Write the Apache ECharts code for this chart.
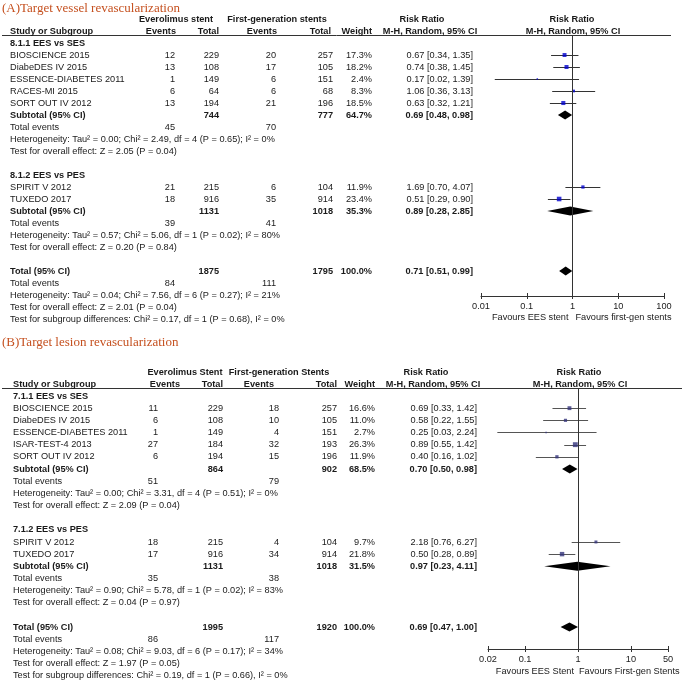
<!DOCTYPE html>
<html><head><meta charset="utf-8">
<script src="https://cdn.jsdelivr.net/npm/echarts@6/dist/echarts.min.js"></script>
<style>html,body{margin:0;padding:0;background:#fff}#c{width:685px;height:686px}</style>
</head><body><div id="c"></div>
<script>
// ===== Panel A data =====
const headA = ['(A)Target vessel revascularization','Everolimus stent','First-generation stents'];
const favA = ['Favours EES stent','Favours first-gen stents'];
const extentA = [0.01, 100];
const studyA = ['BIOSCIENCE 2015','DiabeDES IV 2015','ESSENCE-DIABETES 2011','RACES-MI 2015','SORT OUT IV 2012','SPIRIT V 2012','TUXEDO 2017'];
const groupA = [0,0,0,0,0,1,1];
const eesEvA = [12,13,1,6,13,21,18];
const eesTotA = [229,108,149,64,194,215,916];
const fgEvA = [20,17,6,6,21,6,35];
const fgTotA = [257,105,151,68,196,104,914];
const weightA = [17.3,18.2,2.4,8.3,18.5,11.9,23.4];
const rrA = [0.67,0.74,0.17,1.06,0.63,1.69,0.51];
const loA = [0.34,0.38,0.02,0.36,0.32,0.70,0.29];
const hiA = [1.35,1.45,1.39,3.13,1.21,4.07,0.90];
const subNameA = ['8.1.1 EES vs SES','8.1.2 EES vs PES'];
const subEesTotA = [744,1131];
const subFgTotA = [777,1018];
const subWeightA = [64.7,35.3];
const subRrA = [0.69,0.89];
const subLoA = [0.48,0.28];
const subHiA = [0.98,2.85];
const subEesEvA = [45,39];
const subFgEvA = [70,41];
const subHetA = ['Heterogeneity: Tau² = 0.00; Chi² = 2.49, df = 4 (P = 0.65); I² = 0%','Heterogeneity: Tau² = 0.57; Chi² = 5.06, df = 1 (P = 0.02); I² = 80%'];
const subTestA = ['Test for overall effect: Z = 2.05 (P = 0.04)','Test for overall effect: Z = 0.20 (P = 0.84)'];
const allTotA = [1875,1795];
const allEvA = [84,111];
const allWeightA = 100.0;
const allRrA = [0.71,0.51,0.99];
const allTextA = ['Heterogeneity: Tau² = 0.04; Chi² = 7.56, df = 6 (P = 0.27); I² = 21%','Test for overall effect: Z = 2.01 (P = 0.04)','Test for subgroup differences: Chi² = 0.17, df = 1 (P = 0.68), I² = 0%'];

// ===== Panel B data =====
const headB = ['(B)Target lesion revascularization','Everolimus Stent','First-generation Stents'];
const favB = ['Favours EES Stent','Favours First-gen Stents'];
const extentB = [0.02, 50];
const studyB = ['BIOSCIENCE 2015','DiabeDES IV 2015','ESSENCE-DIABETES 2011','ISAR-TEST-4 2013','SORT OUT IV 2012','SPIRIT V 2012','TUXEDO 2017'];
const groupB = [0,0,0,0,0,1,1];
const eesEvB = [11,6,1,27,6,18,17];
const eesTotB = [229,108,149,184,194,215,916];
const fgEvB = [18,10,4,32,15,4,34];
const fgTotB = [257,105,151,193,196,104,914];
const weightB = [16.6,11.0,2.7,26.3,11.9,9.7,21.8];
const rrB = [0.69,0.58,0.25,0.89,0.40,2.18,0.50];
const loB = [0.33,0.22,0.03,0.55,0.16,0.76,0.28];
const hiB = [1.42,1.55,2.24,1.42,1.02,6.27,0.89];
const subNameB = ['7.1.1 EES vs SES','7.1.2 EES vs PES'];
const subEesTotB = [864,1131];
const subFgTotB = [902,1018];
const subWeightB = [68.5,31.5];
const subRrB = [0.70,0.97];
const subLoB = [0.50,0.23];
const subHiB = [0.98,4.11];
const subEesEvB = [51,35];
const subFgEvB = [79,38];
const subHetB = ['Heterogeneity: Tau² = 0.00; Chi² = 3.31, df = 4 (P = 0.51); I² = 0%','Heterogeneity: Tau² = 0.90; Chi² = 5.78, df = 1 (P = 0.02); I² = 83%'];
const subTestB = ['Test for overall effect: Z = 2.09 (P = 0.04)','Test for overall effect: Z = 0.04 (P = 0.97)'];
const allTotB = [1995,1920];
const allEvB = [86,117];
const allWeightB = 100.0;
const allRrB = [0.69,0.47,1.00];
const allTextB = ['Heterogeneity: Tau² = 0.08; Chi² = 9.03, df = 6 (P = 0.17); I² = 34%','Test for overall effect: Z = 1.97 (P = 0.05)','Test for subgroup differences: Chi² = 0.19, df = 1 (P = 0.66), I² = 0%'];

// ===== layout (positions / styles only) =====
const FONT = '"Liberation Sans", Arial, sans-serif';
const FS = 9.2;
const TXT = '#1a1a1a';
const layoutA = {
  titleY: 9, head1Y: 19, head2Y: 31, lineY: 35.5, lineX1: 2, lineX2: 671,
  labelX: 10, evX: 175, totX: 219, ev2X: 276, tot2X: 333, wX: 372, ciX: 473,
  hEvX: 176, hTotX: 219, hEv2X: 277, hTot2X: 331, hWX: 372,
  hGrp1X: 176, hGrp2X: 277, hRR1X: 422, hRR2X: 572, hMH1X: 430, hMH2X: 573,
  grid: {left: 481, width: 183, top: 35, height: 261},
  slotMin: -0.667, slotMax: 21.083, favY: 317,
  sq: '#0000cc', ci: '#333333', favGapL: 4, favGapR: 3
};
const layoutB = {
  titleY: 343, head1Y: 372, head2Y: 384, lineY: 388.5, lineX1: 2, lineX2: 682,
  labelX: 13, evX: 158, totX: 223, ev2X: 279, tot2X: 337, wX: 375, ciX: 477,
  hEvX: 180, hTotX: 223, hEv2X: 274, hTot2X: 337, hWX: 375,
  hGrp1X: 185, hGrp2X: 279, hRR1X: 426, hRR2X: 579, hMH1X: 433, hMH2X: 580,
  grid: {left: 488, width: 180, top: 388, height: 261},
  slotMin: -0.658, slotMax: 20.80, favY: 671,
  sq: '#33337a', ci: '#555555', favGapL: 4, favGapR: 1
};

const panels = [
  {head: headA, fav: favA, ext: extentA, study: studyA, group: groupA, eesEv: eesEvA, eesTot: eesTotA, fgEv: fgEvA, fgTot: fgTotA,
   weight: weightA, rr: rrA, lo: loA, hi: hiA, subName: subNameA, subEesTot: subEesTotA, subFgTot: subFgTotA, subWeight: subWeightA,
   subRr: subRrA, subLo: subLoA, subHi: subHiA, subEesEv: subEesEvA, subFgEv: subFgEvA, subHet: subHetA, subTest: subTestA,
   allTot: allTotA, allEv: allEvA, allWeight: allWeightA, allRr: allRrA, allText: allTextA, L: layoutA},
  {head: headB, fav: favB, ext: extentB, study: studyB, group: groupB, eesEv: eesEvB, eesTot: eesTotB, fgEv: fgEvB, fgTot: fgTotB,
   weight: weightB, rr: rrB, lo: loB, hi: hiB, subName: subNameB, subEesTot: subEesTotB, subFgTot: subFgTotB, subWeight: subWeightB,
   subRr: subRrB, subLo: subLoB, subHi: subHiB, subEesEv: subEesEvB, subFgEv: subFgEvB, subHet: subHetB, subTest: subTestB,
   allTot: allTotB, allEv: allEvB, allWeight: allWeightB, allRr: allRrB, allText: allTextB, L: layoutB}
];

const fmtCI = (r, l, h) => r.toFixed(2) + ' [' + l.toFixed(2) + ', ' + h.toFixed(2) + ']';
const fmtW = w => w.toFixed(1) + '%';

// build row structure (slot = table row number)
panels.forEach(d => {
  const L = d.L;
  d.rows = []; d.slots = []; d.subSlots = [];
  let s = 0;
  for (let g = 0; g < d.subName.length; g++) {
    d.rows.push({slot: s, cells: [[L.labelX, 'left', d.subName[g], true]]}); s++;
    d.study.forEach((name, i) => {
      if (d.group[i] !== g) return;
      d.slots[i] = s;
      d.rows.push({slot: s, cells: [
        [L.labelX, 'left', name, false], [L.evX, 'right', String(d.eesEv[i]), false], [L.totX, 'right', String(d.eesTot[i]), false],
        [L.ev2X, 'right', String(d.fgEv[i]), false], [L.tot2X, 'right', String(d.fgTot[i]), false],
        [L.wX, 'right', fmtW(d.weight[i]), false], [L.ciX, 'right', fmtCI(d.rr[i], d.lo[i], d.hi[i]), false]]});
      s++;
    });
    d.subSlots[g] = s;
    d.rows.push({slot: s, cells: [
      [L.labelX, 'left', 'Subtotal (95% CI)', true], [L.totX, 'right', String(d.subEesTot[g]), true],
      [L.tot2X, 'right', String(d.subFgTot[g]), true], [L.wX, 'right', fmtW(d.subWeight[g]), true],
      [L.ciX, 'right', fmtCI(d.subRr[g], d.subLo[g], d.subHi[g]), true]]}); s++;
    d.rows.push({slot: s, cells: [[L.labelX, 'left', 'Total events', false], [L.evX, 'right', String(d.subEesEv[g]), false], [L.ev2X, 'right', String(d.subFgEv[g]), false]]}); s++;
    d.rows.push({slot: s, cells: [[L.labelX, 'left', d.subHet[g], false]]}); s++;
    d.rows.push({slot: s, cells: [[L.labelX, 'left', d.subTest[g], false]]}); s += 2;
  }
  d.totSlot = s;
  d.rows.push({slot: s, cells: [
    [L.labelX, 'left', 'Total (95% CI)', true], [L.totX, 'right', String(d.allTot[0]), true],
    [L.tot2X, 'right', String(d.allTot[1]), true], [L.wX, 'right', fmtW(d.allWeight), true],
    [L.ciX, 'right', fmtCI(d.allRr[0], d.allRr[1], d.allRr[2]), true]]}); s++;
  d.rows.push({slot: s, cells: [[L.labelX, 'left', 'Total events', false], [L.evX, 'right', String(d.allEv[0]), false], [L.ev2X, 'right', String(d.allEv[1]), false]]}); s++;
  d.allText.forEach(t => { d.rows.push({slot: s, cells: [[L.labelX, 'left', t, false]]}); s++; });
});

const grids = [], xAxes = [], yAxes = [], series = [];
panels.forEach((d, p) => {
  const L = d.L;
  grids.push(Object.assign({outerBoundsMode: 'none', containLabel: false}, L.grid));
  [true, false].forEach(main => {
    xAxes.push({
      type: 'log', logBase: 10, gridIndex: p, min: d.ext[0], max: d.ext[1], position: 'bottom',
      axisLine: {show: main, onZero: false, lineStyle: {color: '#333', width: 1}},
      axisTick: {show: true, inside: !main, length: 3, lineStyle: {color: '#333', width: 1}},
      axisLabel: {show: main, color: TXT, fontSize: FS, fontFamily: FONT, margin: 6},
      splitLine: {show: false}, minorTick: {show: false}, minorSplitLine: {show: false}
    });
  });
  yAxes.push({type: 'value', gridIndex: p, min: L.slotMin, max: L.slotMax, inverse: true, show: false,
    splitLine: {show: false}, axisLine: {show: false}, axisTick: {show: false}, axisLabel: {show: false}});
  const xi = p * 2;
  // reference line at RR = 1
  series.push({type: 'scatter', xAxisIndex: xi, yAxisIndex: p, data: [], z: 1,
    markLine: {silent: true, symbol: ['none', 'none'], label: {show: false}, animation: false,
      lineStyle: {color: '#333', width: 1, type: 'solid'}, data: [{xAxis: 1}]}});
  // CI whiskers
  series.push({type: 'custom', xAxisIndex: xi, yAxisIndex: p, z: 2, silent: true, clip: false,
    data: d.study.map((_, i) => [d.lo[i], d.hi[i], d.slots[i]]),
    encode: {x: [0, 1], y: 2},
    renderItem: (params, api) => {
      const a = api.coord([api.value(0), api.value(2)]);
      const b = api.coord([api.value(1), api.value(2)]);
      const y = Math.round(a[1]) + 0.5;
      return {type: 'line', shape: {x1: a[0], y1: y, x2: b[0], y2: y}, style: {stroke: L.ci, lineWidth: 1}};
    }});
  // study squares
  series.push({type: 'scatter', xAxisIndex: xi, yAxisIndex: p, z: 3, silent: true, symbol: 'rect',
    data: d.study.map((_, i) => [d.rr[i], d.slots[i], d.weight[i]]),
    symbolSize: v => Math.max(1.5, Math.sqrt(v[2]) * 0.95),
    itemStyle: {color: L.sq}});
  // pooled diamonds
  const dia = d.subName.map((_, g) => [d.subLo[g], d.subRr[g], d.subHi[g], d.subSlots[g]]);
  dia.push([d.allRr[1], d.allRr[0], d.allRr[2], d.totSlot]);
  series.push({type: 'custom', xAxisIndex: xi, yAxisIndex: p, z: 4, silent: true, clip: false,
    data: dia, encode: {x: [0, 1, 2], y: 3},
    renderItem: (params, api) => {
      const l = api.coord([api.value(0), api.value(3)]);
      const c = api.coord([api.value(1), api.value(3)]);
      const r = api.coord([api.value(2), api.value(3)]);
      const h = 4.5;
      return {type: 'polygon', shape: {points: [[l[0], l[1]], [c[0], c[1] - h], [r[0], r[1]], [c[0], c[1] + h]]}, style: {fill: '#000'}};
    }});
});

const chart = echarts.init(document.getElementById('c'), null, {renderer: 'canvas'});
chart.setOption({
  animation: false, backgroundColor: '#fff',
  grid: grids, xAxis: xAxes, yAxis: yAxes, series: series
});

// ===== table text =====
function txt(x, y, s, align, bold, size, family, color) {
  return {type: 'text', silent: true, x: x, y: y, z: 10,
    style: {text: s, fill: color || TXT, align: align, verticalAlign: 'middle',
      font: (bold ? 'bold ' : '') + (size || FS) + 'px ' + (family || FONT)}};
}
const els = [];
panels.forEach((d, p) => {
  const L = d.L;
  els.push(txt(2, L.titleY, d.head[0], 'left', false, 13, '"Liberation Serif", "Times New Roman", serif', '#c5501f'));
  els.push(txt(L.hGrp1X, L.head1Y, d.head[1], 'center', true));
  els.push(txt(L.hGrp2X, L.head1Y, d.head[2], 'center', true));
  els.push(txt(L.hRR1X, L.head1Y, 'Risk Ratio', 'center', true));
  els.push(txt(L.hRR2X, L.head1Y, 'Risk Ratio', 'center', true));
  els.push(txt(L.labelX, L.head2Y, 'Study or Subgroup', 'left', true));
  els.push(txt(L.hEvX, L.head2Y, 'Events', 'right', true));
  els.push(txt(L.hTotX, L.head2Y, 'Total', 'right', true));
  els.push(txt(L.hEv2X, L.head2Y, 'Events', 'right', true));
  els.push(txt(L.hTot2X, L.head2Y, 'Total', 'right', true));
  els.push(txt(L.hWX, L.head2Y, 'Weight', 'right', true));
  els.push(txt(L.hMH1X, L.head2Y, 'M-H, Random, 95% CI', 'center', true));
  els.push(txt(L.hMH2X, L.head2Y, 'M-H, Random, 95% CI', 'center', true));
  els.push({type: 'line', silent: true, z: 9, shape: {x1: L.lineX1, y1: L.lineY, x2: L.lineX2, y2: L.lineY}, style: {stroke: '#333', lineWidth: 1}});
  d.rows.forEach(r => {
    const y = chart.convertToPixel({yAxisIndex: p}, r.slot);
    r.cells.forEach(c => els.push(txt(c[0], y, c[2], c[1], c[3])));
  });
  const x1 = chart.convertToPixel({xAxisIndex: p * 2}, 1);
  els.push(txt(x1 - L.favGapL, L.favY, d.fav[0], 'right', false));
  els.push(txt(x1 + L.favGapR, L.favY, d.fav[1], 'left', false));
});
chart.setOption({graphic: {elements: els}});
</script>
</body></html>
